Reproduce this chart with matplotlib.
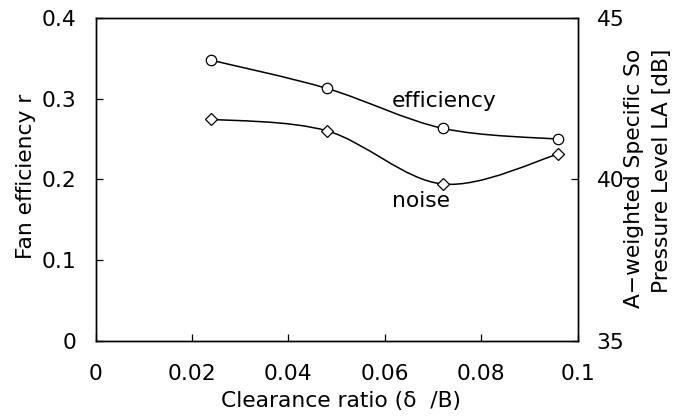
import numpy as np
import matplotlib
matplotlib.use("Agg")
import matplotlib.pyplot as plt
from matplotlib.path import Path
from matplotlib.patches import PathPatch
from matplotlib.transforms import Bbox, TransformedBbox

# data
clearance = [0.024, 0.048, 0.072, 0.096]
efficiency = [0.348, 0.313, 0.2635, 0.250]
noise_db = [41.87, 41.51, 39.86, 40.79]

x_ticks = [0, 0.02, 0.04, 0.06, 0.08, 0.1]
x_labels = ["0", "0.02", "0.04", "0.06", "0.08", "0.1"]
eff_ticks = [0, 0.1, 0.2, 0.3, 0.4]
eff_labels = ["0", "0.1", "0.2", "0.3", "0.4"]
db_ticks = [35, 40, 45]
db_labels = ["35", "40", "45"]

FS = 15.7


def smooth_path(xs, ys):
    # Catmull-Rom through the points, drawn as cubic Bezier segments
    pts = list(zip(xs, ys))
    pad = [pts[0]] + pts + [pts[-1]]
    verts = [pts[0]]
    codes = [Path.MOVETO]
    for i in range(1, len(pad) - 2):
        p0, p1, p2, p3 = pad[i - 1], pad[i], pad[i + 1], pad[i + 2]
        c1 = (p1[0] + (p2[0] - p0[0]) / 6, p1[1] + (p2[1] - p0[1]) / 6)
        c2 = (p2[0] - (p3[0] - p1[0]) / 6, p2[1] - (p3[1] - p1[1]) / 6)
        verts += [c1, c2, p2]
        codes += [Path.CURVE4] * 3
    return Path(verts, codes)


fig = plt.figure(figsize=(6.75, 4.19), dpi=100)
ax = fig.add_axes([0.1415, 0.1869, 0.7144, 0.7694])
ax2 = ax.twinx()

ax.set_xlim(0, 0.1)
ax.set_ylim(0, 0.4)
ax2.set_ylim(35, 45)

for a in (ax, ax2):
    for s in a.spines.values():
        s.set_linewidth(1.0)

ax.add_patch(PathPatch(smooth_path(clearance, efficiency), fill=False,
                       edgecolor="black", lw=1.1, zorder=2))
ax.plot(clearance, efficiency, "o", ms=7.5, mfc="white", mec="black",
        mew=0.9, zorder=3)

ax2.add_patch(PathPatch(smooth_path(clearance, noise_db), fill=False,
                        edgecolor="black", lw=1.1, zorder=2))
ax2.plot(clearance, noise_db, "D", ms=6, mfc="white", mec="black",
         mew=0.9, zorder=3)

ax.set_xticks(x_ticks)
ax.set_xticklabels(x_labels)
ax.set_yticks(eff_ticks)
ax.set_yticklabels(eff_labels)
ax2.set_yticks(db_ticks)
ax2.set_yticklabels(db_labels)

ax.tick_params(axis="x", direction="in", length=5, width=0.9, pad=16.5,
               labelsize=FS, top=False)
ax.tick_params(axis="y", direction="in", length=5, width=0.9, pad=13.5,
               labelsize=FS, right=False)
ax2.tick_params(axis="y", direction="in", length=5, width=0.9, pad=13.5,
                labelsize=FS)

ax.text(0.0615, 0.2903, "efficiency", fontsize=FS, va="baseline", ha="left")
ax.text(0.0615, 0.1663, "noise", fontsize=FS, va="baseline", ha="left")

fig.text(0.505, 0.0286, "Clearance ratio (δ  /B)", fontsize=FS,
         ha="center", va="baseline")
fig.text(0.047, 0.579, "Fan efficiency r", fontsize=FS, rotation=90,
         rotation_mode="anchor", ha="center", va="baseline")

t1 = fig.text(0.948, 0.2649, "A−weighted Specific Sound", fontsize=FS,
              rotation=90, rotation_mode="anchor", ha="left", va="baseline")
t1.set_clip_box(TransformedBbox(Bbox([[0, 0], [1, 0.878]]), fig.transFigure))
t1.set_clip_on(True)
fig.text(0.990, 0.3007, "Pressure Level LA [dB]", fontsize=FS,
         rotation=90, rotation_mode="anchor", ha="left", va="baseline")

fig.savefig("out.png", dpi=100)
